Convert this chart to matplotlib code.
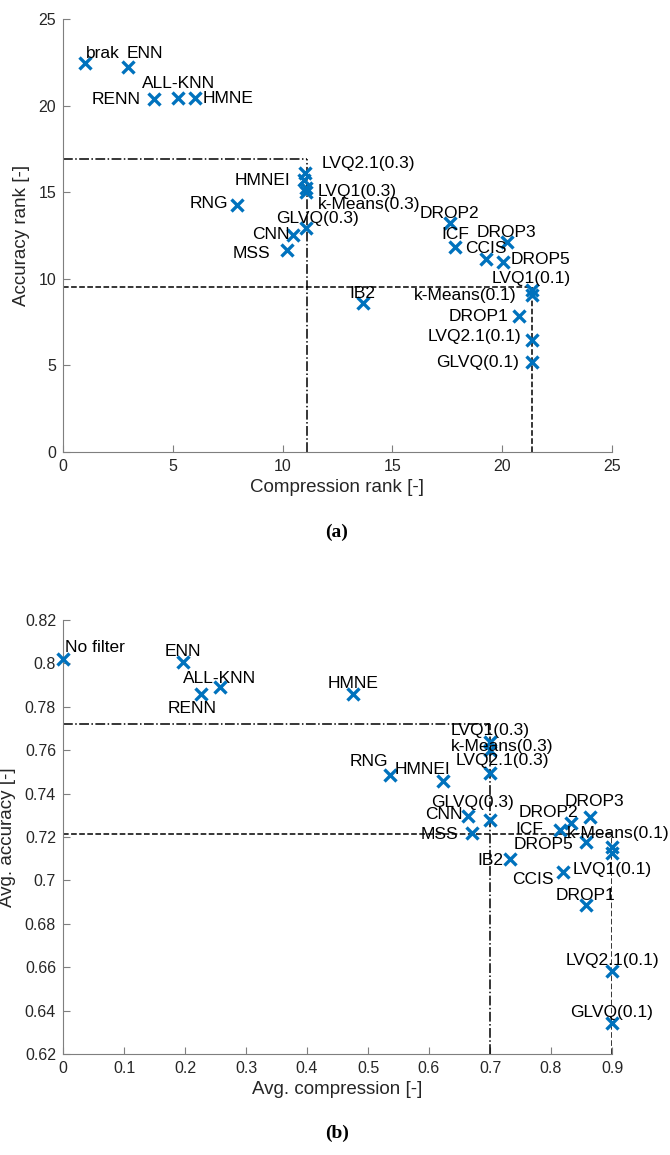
import matplotlib
matplotlib.use('Agg')
import matplotlib.pyplot as plt
from matplotlib.ticker import FuncFormatter

plt.rcParams['font.family'] = ['Liberation Sans', 'DejaVu Sans']

# (a) compression rank vs accuracy rank
names_a = ['brak', 'ENN', 'RENN', 'ALL-KNN', 'HMNE', 'LVQ2.1(0.3)', 'HMNEI', 'LVQ1(0.3)',
           'k-Means(0.3)', 'RNG', 'GLVQ(0.3)', 'CNN', 'MSS', 'IB2', 'DROP2', 'ICF', 'DROP3',
           'CCIS', 'DROP5', 'LVQ1(0.1)', 'k-Means(0.1)', 'DROP1', 'LVQ2.1(0.1)', 'GLVQ(0.1)']
comp_rank = [1.0, 2.97, 4.16, 5.25, 6.01, 11.02, 10.97, 11.05, 11.05, 7.91, 11.07, 10.46,
             10.22, 13.65, 17.62, 17.85, 20.2, 19.26, 20.02, 21.34, 21.34, 20.78, 21.34, 21.34]
acc_rank = [22.44, 22.21, 20.36, 20.45, 20.42, 16.1, 15.7, 15.25, 15.0, 14.26, 12.91, 12.53,
            11.66, 8.58, 13.2, 11.85, 12.14, 11.12, 10.99, 9.35, 9.06, 7.85, 6.47, 5.18]
ref_a_x = [11.1, 21.35]   # dash-dot, dashed
ref_a_y = [16.9, 9.55]

# (b) avg compression vs avg accuracy
names_b = ['No filter', 'ENN', 'RENN', 'ALL-KNN', 'HMNE', 'LVQ1(0.3)', 'k-Means(0.3)',
           'LVQ2.1(0.3)', 'RNG', 'HMNEI', 'GLVQ(0.3)', 'CNN', 'MSS', 'IB2', 'DROP2', 'ICF',
           'DROP3', 'DROP5', 'k-Means(0.1)', 'LVQ1(0.1)', 'CCIS', 'DROP1', 'LVQ2.1(0.1)', 'GLVQ(0.1)']
avg_comp = [0.0, 0.196, 0.226, 0.257, 0.475, 0.7, 0.7, 0.7, 0.536, 0.623, 0.7, 0.664,
            0.670, 0.732, 0.832, 0.815, 0.864, 0.857, 0.9, 0.9, 0.819, 0.857, 0.9, 0.9]
avg_acc = [0.802, 0.8008, 0.7858, 0.7889, 0.786, 0.764, 0.760, 0.7495, 0.7487, 0.7457,
           0.728, 0.7296, 0.7219, 0.710, 0.7265, 0.7234, 0.7291, 0.7176, 0.7155, 0.7125,
           0.7038, 0.6885, 0.6583, 0.6345]
ref_b_x = [0.7, 0.9]
ref_b_y = [0.772, 0.7215]

# label placement: (ha, dx, dy) in pixels
place_a = {
    'brak': ('left', 1, 10), 'ENN': ('left', -2, 14), 'RENN': ('right', -14, 0),
    'ALL-KNN': ('center', 0, 14), 'HMNE': ('left', 8, 0), 'LVQ2.1(0.3)': ('left', 17, 10),
    'HMNEI': ('right', -14, 0), 'LVQ1(0.3)': ('left', 12, -4), 'k-Means(0.3)': ('left', 12, -12),
    'RNG': ('right', -9, 2), 'GLVQ(0.3)': ('center', 11, 10), 'CNN': ('right', -3, 0),
    'MSS': ('right', -17, -3), 'IB2': ('center', 0, 10), 'DROP2': ('center', 0, 10),
    'ICF': ('center', 0, 12), 'DROP3': ('center', 0, 9), 'CCIS': ('center', 0, 11),
    'DROP5': ('left', 8, 2), 'LVQ1(0.1)': ('center', 0, 12), 'k-Means(0.1)': ('right', -15, 0),
    'DROP1': ('right', -11, 0), 'LVQ2.1(0.1)': ('right', -10, 3), 'GLVQ(0.1)': ('right', -13, 0),
}
place_b = {
    'No filter': ('left', 2, 12), 'ENN': ('center', 0, 10), 'RENN': ('center', -9, -14),
    'ALL-KNN': ('center', 0, 9), 'HMNE': ('center', 0, 10), 'LVQ1(0.3)': ('center', 0, 11),
    'k-Means(0.3)': ('center', 12, 4), 'LVQ2.1(0.3)': ('center', 12, 12),
    'RNG': ('center', -21, 13), 'HMNEI': ('center', -21, 12), 'GLVQ(0.3)': ('center', -18, 17),
    'CNN': ('right', -5, 2), 'MSS': ('right', -13, -2), 'IB2': ('right', -6, -2),
    'DROP2': ('center', -22, 10), 'ICF': ('right', -17, 0), 'DROP3': ('center', 4, 16),
    'DROP5': ('right', -12, -2), 'k-Means(0.1)': ('center', 6, 13), 'LVQ1(0.1)': ('center', 0, -16),
    'CCIS': ('right', -9, -7), 'DROP1': ('center', 0, 10), 'LVQ2.1(0.1)': ('center', 0, 10),
    'GLVQ(0.1)': ('center', 0, 10),
}

blue = '#0072BD'
axcol = '#7f7f7f'
txtcol = '#262626'


def style_axes(ax):
    for s in ['top', 'right']:
        ax.spines[s].set_visible(False)
    for s in ['left', 'bottom']:
        ax.spines[s].set_color(axcol)
        ax.spines[s].set_linewidth(0.8)
    ax.tick_params(direction='in', length=5, width=0.8, color=axcol,
                   labelsize=11.5, labelcolor=txtcol, pad=5)


def draw(ax, xs, ys, names, place, rx, ry, x0, y0):
    # reference lines
    ax.plot([x0, rx[0]], [ry[0], ry[0]], color='k', ls='-.', lw=1.1, zorder=2)
    ax.plot([rx[0], rx[0]], [y0, ry[0]], color='k', ls='-.', lw=1.1, zorder=2)
    ax.plot([x0, rx[1]], [ry[1], ry[1]], color='k', ls='--', lw=1.1, zorder=2)
    ax.plot([rx[1], rx[1]], [y0, ry[1]], color='k', ls='--', lw=1.1, zorder=2)
    ax.plot(xs, ys, 'x', color=blue, ms=9, mew=2.4, ls='none', zorder=3, clip_on=False)
    for n, x, y in zip(names, xs, ys):
        ha, dx, dy = place[n]
        ax.annotate(n, (x, y), xytext=(dx, dy), textcoords='offset pixels',
                    ha=ha, va='center', fontsize=12.5, color='k',
                    annotation_clip=False, zorder=4)


fig = plt.figure(figsize=(6.7, 11.55), dpi=100)

ax1 = fig.add_axes([63 / 670, 1 - 452 / 1155, 549 / 670, 433 / 1155])
draw(ax1, comp_rank, acc_rank, names_a, place_a, ref_a_x, ref_a_y, 0, 0)
ax1.set_xlim(0, 25)
ax1.set_ylim(0, 25)
ax1.set_xticks(range(0, 26, 5))
ax1.set_yticks(range(0, 26, 5))
style_axes(ax1)
ax1.set_xlabel('Compression rank [-]', fontsize=13.5, color=txtcol, labelpad=4)
ax1.set_ylabel('Accuracy rank [-]', fontsize=13.5, color=txtcol, labelpad=6)

ax2 = fig.add_axes([63 / 670, 1 - 1054 / 1155, 549 / 670, 434 / 1155])
draw(ax2, avg_comp, avg_acc, names_b, place_b, ref_b_x, ref_b_y, 0, 0.62)
ax2.set_xlim(0, 0.9)
ax2.set_ylim(0.62, 0.82)
ax2.set_xticks([i / 10 for i in range(10)])
ax2.set_yticks([0.62 + 0.02 * i for i in range(11)])
fmt = FuncFormatter(lambda v, p: '%g' % round(v, 2))
ax2.xaxis.set_major_formatter(fmt)
ax2.yaxis.set_major_formatter(fmt)
style_axes(ax2)
ax2.set_xlabel('Avg. compression [-]', fontsize=13.5, color=txtcol, labelpad=4)
ax2.set_ylabel('Avg. accuracy [-]', fontsize=13.5, color=txtcol, labelpad=6)

fig.text(337 / 670, 1 - 532 / 1155, '(a)', ha='center', va='center', fontsize=14,
         fontweight='bold', family=['Liberation Serif', 'DejaVu Serif'])
fig.text(337 / 670, 1 - 1133 / 1155, '(b)', ha='center', va='center', fontsize=14,
         fontweight='bold', family=['Liberation Serif', 'DejaVu Serif'])

fig.savefig('out.png', dpi=100, facecolor='w')
